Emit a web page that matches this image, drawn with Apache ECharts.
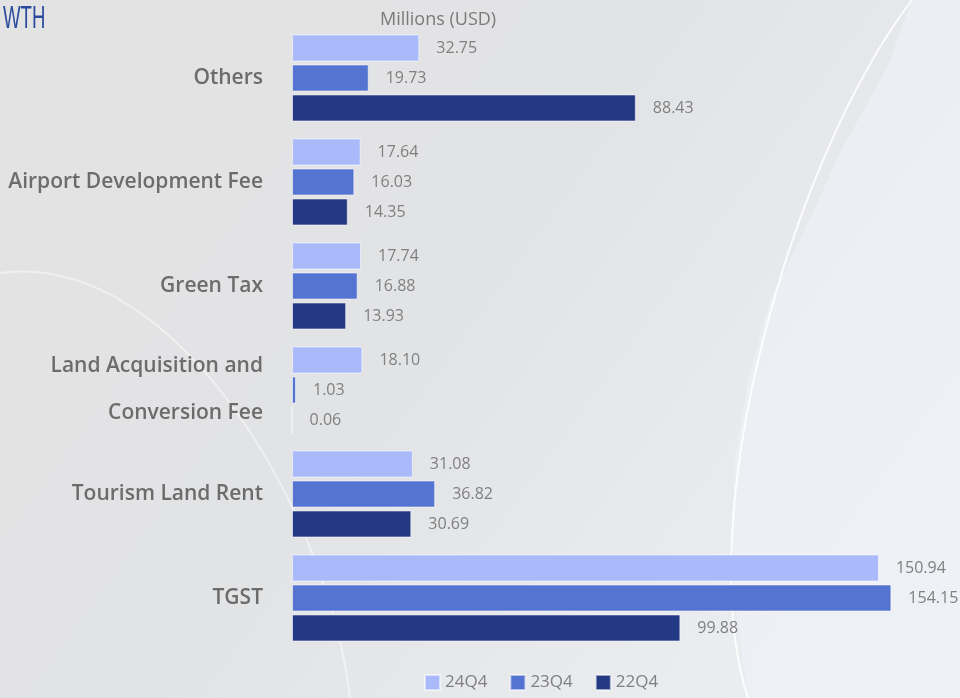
<!DOCTYPE html>
<html>
<head>
<meta charset="utf-8">
<script src="https://cdn.jsdelivr.net/npm/echarts@6/dist/echarts.min.js"></script>
<style>
  html, body { margin: 0; padding: 0; }
  #chart { width: 960px; height: 698px; }
</style>
</head>
<body>
<div id="chart"></div>
<script>
var categories = ['Others', 'Airport Development Fee', 'Green Tax', 'Land Acquisition and\nConversion Fee', 'Tourism Land Rent', 'TGST'];
var seriesNames = ['24Q4', '23Q4', '22Q4'];
var q24 = [32.75, 17.64, 17.74, 18.10, 31.08, 150.94];
var q23 = [19.73, 16.03, 16.88, 1.03, 36.82, 154.15];
var q22 = [88.43, 14.35, 13.93, 0.06, 30.69, 99.88];
var colors = ['#a9b9fa', '#5573d0', '#233984'];

var chart = echarts.init(document.getElementById('chart'));

function barSeries(name, data, color) {
    return {
        name: name,
        type: 'bar',
        data: data,
        barWidth: 27,
        barGap: '11%',
        itemStyle: {
            color: color,
            borderColor: 'rgba(255,255,255,0.55)',
            borderWidth: 1
        },
        label: {
            show: true,
            position: 'right',
            distance: 17,
            color: '#808080',
            fontSize: 16,
            fontFamily: 'Open Sans',
            formatter: function (p) { return p.value.toFixed(2); }
        }
    };
}

// lighter panel to the right of the decorative curve
var panelPoints = [[912, 0], [887, 67], [841, 151], [800, 240], [770, 300], [748, 380],
    [735, 460], [732, 540], [738, 620], [748, 698], [960, 698], [960, 0]];

var option = {
    backgroundColor: {
        type: 'linear', x: 0, y: 0, x2: 1, y2: 1,
        colorStops: [
            { offset: 0, color: '#e3e3e3' },
            { offset: 0.45, color: '#e2e3e5' },
            { offset: 1, color: '#eef1f5' }
        ]
    },
    graphic: [
        {
            type: 'polygon',
            silent: true,
            z: -2,
            shape: { points: panelPoints },
            style: { fill: 'rgba(238,242,247,0.55)' }
        },
        {
            type: 'bezierCurve',
            silent: true,
            z: -1,
            shape: { x1: 0, y1: 273, x2: 350, y2: 698, cpx1: 180, cpy1: 250, cpx2: 330, cpy2: 520 },
            style: { stroke: 'rgba(255,255,255,0.45)', lineWidth: 2, fill: null }
        },
        {
            type: 'bezierCurve',
            silent: true,
            z: -1,
            shape: { x1: 912, y1: 0, x2: 748, y2: 698, cpx1: 790, cpy1: 160, cpx2: 690, cpy2: 520 },
            style: { stroke: 'rgba(255,255,255,0.85)', lineWidth: 2, fill: null }
        },
        {
            type: 'text',
            silent: true,
            x: 3,
            y: 4,
            scaleX: 0.6,
            style: {
                text: 'WTH',
                fill: '#2a4a9e',
                font: '31px "Liberation Sans"'
            }
        }
    ],
    title: {
        text: 'Millions (USD)',
        left: 375,
        top: 6,
        textStyle: { color: '#7a7a7a', fontSize: 18, fontWeight: 'normal', fontFamily: 'Open Sans' }
    },
    legend: {
        data: seriesNames,
        left: 419,
        bottom: 2,
        itemWidth: 15,
        itemHeight: 15,
        itemGap: 22,
        icon: 'rect',
        textStyle: { color: '#808080', fontSize: 17, fontFamily: 'Open Sans' }
    },
    grid: {
        left: 292,
        right: 7,
        top: 26,
        bottom: 48
    },
    xAxis: {
        type: 'value',
        min: 0,
        max: 170,
        show: false
    },
    yAxis: {
        type: 'category',
        data: categories,
        inverse: true,
        axisLine: { show: false },
        axisTick: { show: false },
        axisLabel: {
            margin: 29,
            color: '#6c6c6c',
            fontSize: 21,
            fontWeight: 600,
            fontFamily: 'Open Sans',
            lineHeight: 47
        }
    },
    series: [
        barSeries(seriesNames[0], q24, colors[0]),
        barSeries(seriesNames[1], q23, colors[1]),
        barSeries(seriesNames[2], q22, colors[2])
    ]
};

chart.setOption(option);
</script>
</body>
</html>
